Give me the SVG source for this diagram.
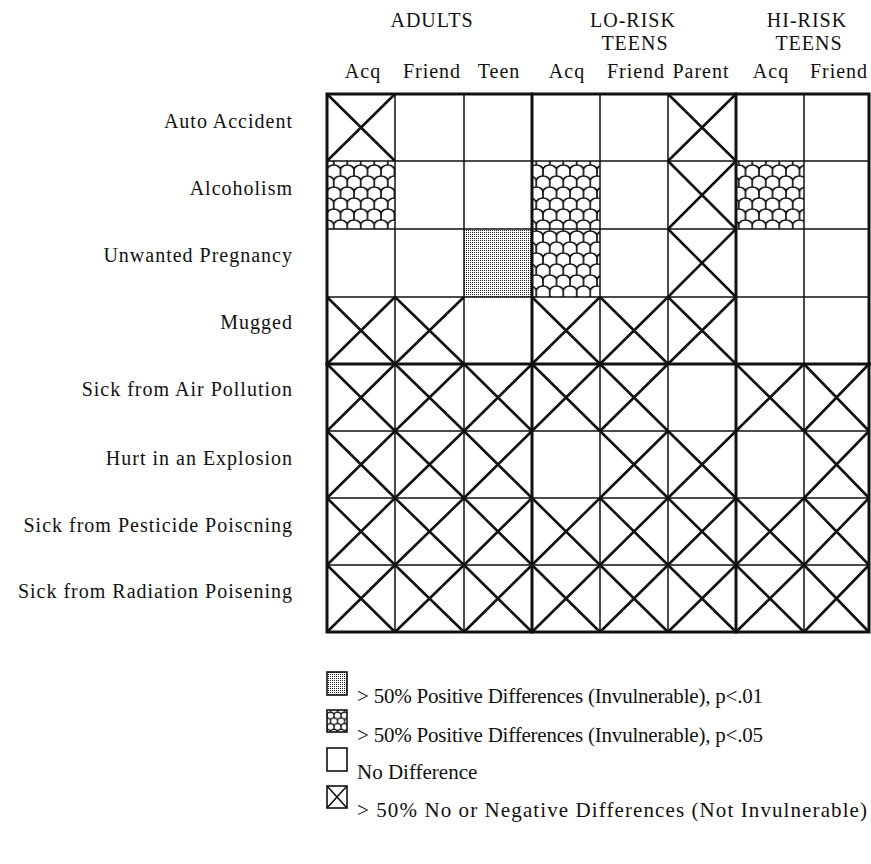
<svg xmlns="http://www.w3.org/2000/svg" width="871" height="864" viewBox="0 0 871 864">
<style>
text{font-family:"Liberation Serif","Times New Roman",serif;font-size:20px;letter-spacing:1px;fill:#111}
.h{text-anchor:middle}
.r{text-anchor:end}
.lg{font-size:21px;letter-spacing:0}
.thin{stroke:#111;stroke-width:1.5;fill:none}
.thick{stroke:#111;stroke-width:3;fill:none;stroke-linecap:square}
.x{stroke:#111;stroke-width:2.6;fill:none}
.lb{stroke:#111;stroke-width:1.6}
</style>
<defs>
<pattern id="dots" width="2" height="2" patternUnits="userSpaceOnUse">
<rect width="2" height="2" fill="#fff"/>
<rect width="1" height="1" fill="#222"/>
</pattern>
<pattern id="scales" width="13.5" height="22" patternUnits="userSpaceOnUse" patternTransform="translate(327 161)">
<rect width="13.5" height="22" fill="#fff"/>
<path d="M0,9 A6.75,5 0 0 1 13.5,9 M-6.75,20 A6.75,5 0 0 1 6.75,20 A6.75,5 0 0 1 20.25,20 M0,9 V15 M13.5,9 V15 M6.75,20 V22 M6.75,0 V4" stroke="#111" stroke-width="1.7" fill="none"/>
</pattern>
<pattern id="scalesSmall" width="13.5" height="22" patternUnits="userSpaceOnUse" patternTransform="translate(327 710) scale(0.52)">
<rect width="13.5" height="22" fill="#fff"/>
<path d="M0,9 A6.75,5 0 0 1 13.5,9 M-6.75,20 A6.75,5 0 0 1 6.75,20 A6.75,5 0 0 1 20.25,20 M0,9 V15 M13.5,9 V15 M6.75,20 V22 M6.75,0 V4" stroke="#111" stroke-width="2.6" fill="none"/>
</pattern>
</defs>
<rect width="871" height="864" fill="#fff"/>

<g id="headers">
<text class="h" x="432" y="27">ADULTS</text>
<text class="h" x="633" y="27">LO-RISK</text>
<text class="h" x="635" y="50">TEENS</text>
<text class="h" x="807" y="27">HI-RISK</text>
<text class="h" x="809" y="50">TEENS</text>
<text class="h" x="363" y="78">Acq</text>
<text class="h" x="432" y="78">Friend</text>
<text class="h" x="499" y="78">Teen</text>
<text class="h" x="567" y="78">Acq</text>
<text class="h" x="636" y="78">Friend</text>
<text class="h" x="701" y="78">Parent</text>
<text class="h" x="771" y="78">Acq</text>
<text class="h" x="839" y="78">Friend</text>
</g>

<g id="row-labels">
<text class="r" x="293" y="128">Auto Accident</text>
<text class="r" x="293" y="195">Alcoholism</text>
<text class="r" x="293" y="262">Unwanted Pregnancy</text>
<text class="r" x="293" y="329">Mugged</text>
<text class="r" x="293" y="396">Sick from Air Pollution</text>
<text class="r" x="293" y="465">Hurt in an Explosion</text>
<text class="r" x="293" y="532">Sick from Pesticide Poiscning</text>
<text class="r" x="293" y="598">Sick from Radiation Poisening</text>
</g>

<g id="cell-fills">
<rect x="327" y="161" width="68" height="68" fill="url(#scales)"/>
<rect x="532" y="161" width="68" height="68" fill="url(#scales)"/>
<rect x="736" y="161" width="68" height="68" fill="url(#scales)"/>
<rect x="532" y="229" width="68" height="68" fill="url(#scales)"/>
<rect x="464" y="229" width="68" height="68" fill="url(#dots)"/>
</g>

<g id="grid">
<path class="thin" d="M395 94V632 M464 94V632 M600 94V632 M668 94V632 M804 94V632 M327 161H870 M327 229H870 M327 297H870 M327 431H870 M327 498H870 M327 565H870"/>
<path class="thick" d="M532 94V632 M736 94V632 M327 364H870"/>
<rect class="thick" x="327" y="94" width="542" height="538"/>
</g>

<g id="crosses">
<path class="x" d="M327 94L395 161M395 94L327 161 M668 94L736 161M736 94L668 161"/>
<path class="x" d="M668 161L736 229M736 161L668 229"/>
<path class="x" d="M668 229L736 297M736 229L668 297"/>
<path class="x" d="M327 297L395 364M395 297L327 364 M395 297L464 364M464 297L395 364 M532 297L600 364M600 297L532 364 M600 297L668 364M668 297L600 364 M668 297L736 364M736 297L668 364"/>
<path class="x" d="M327 364L395 431M395 364L327 431 M395 364L464 431M464 364L395 431 M464 364L532 431M532 364L464 431 M532 364L600 431M600 364L532 431 M600 364L668 431M668 364L600 431 M736 364L804 431M804 364L736 431 M804 364L869 431M869 364L804 431"/>
<path class="x" d="M327 431L395 498M395 431L327 498 M395 431L464 498M464 431L395 498 M464 431L532 498M532 431L464 498 M600 431L668 498M668 431L600 498 M668 431L736 498M736 431L668 498 M804 431L869 498M869 431L804 498"/>
<path class="x" d="M327 498L395 565M395 498L327 565 M395 498L464 565M464 498L395 565 M464 498L532 565M532 498L464 565 M532 498L600 565M600 498L532 565 M600 498L668 565M668 498L600 565 M668 498L736 565M736 498L668 565 M736 498L804 565M804 498L736 565 M804 498L869 565M869 498L804 565"/>
<path class="x" d="M327 565L395 632M395 565L327 632 M395 565L464 632M464 565L395 632 M464 565L532 632M532 565L464 632 M532 565L600 632M600 565L532 632 M600 565L668 632M668 565L600 632 M668 565L736 632M736 565L668 632 M736 565L804 632M804 565L736 632 M804 565L869 632M869 565L804 632"/>
</g>

<g id="legend">
<g id="legend-p01">
<rect class="lb" x="327" y="672" width="20" height="23" fill="url(#dots)"/>
<text class="lg" x="357" y="703" textLength="406">&gt; 50% Positive Differences (Invulnerable), p&lt;.01</text>
</g>
<g id="legend-p05">
<rect class="lb" x="327" y="710" width="20" height="22" fill="url(#scalesSmall)"/>
<text class="lg" x="357" y="742" textLength="406">&gt; 50% Positive Differences (Invulnerable), p&lt;.05</text>
</g>
<g id="legend-none">
<rect class="lb" x="327" y="748" width="20" height="23" fill="#fff"/>
<text class="lg" x="357" y="779">No Difference</text>
</g>
<g id="legend-neg">
<rect class="lb" x="327" y="786" width="20" height="22" fill="#fff"/>
<path class="lb" d="M327 786L347 808M347 786L327 808" fill="none" stroke-width="2.2"/>
<text class="lg" x="357" y="817" textLength="510">&gt; 50% No or Negative Differences (Not Invulnerable)</text>
</g>
</g>
</svg>
